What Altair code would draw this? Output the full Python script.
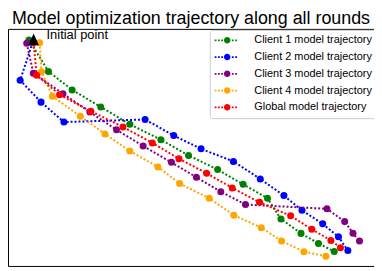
import altair as alt
import pandas as pd

series = ["Client 1 model trajectory", "Client 2 model trajectory",
          "Client 3 model trajectory", "Client 4 model trajectory",
          "Global model trajectory"]
colors = ["#008000", "#0000ff", "#800080", "#ffa500", "#ff0000"]

c1_x = [27.3, 47.0, 71.0, 100.0, 129.5, 161.0, 189.0, 218.5, 244.3, 269.0, 282.7, 303.0, 320.7, 336.7]
c1_y = [32.5, 65.2, 84.3, 102.0, 120.0, 136.0, 152.3, 167.0, 182.3, 196.7, 218.3, 233.2, 243.7, 252.0]

c2_x = [31.0, 18.3, 39.5, 62.7, 145.0, 174.0, 201.7, 234.5, 261.7, 285.7, 304.0, 325.0, 341.0, 350.5]
c2_y = [35.0, 74.3, 97.0, 117.7, 115.0, 131.7, 145.5, 158.5, 176.7, 194.0, 209.3, 223.3, 236.7, 251.0]

c3_x = [25.0, 31.7, 61.7, 89.0, 116.0, 143.0, 171.7, 197.0, 221.7, 246.7, 329.3, 347.3, 355.7, 362.3]
c3_y = [36.0, 67.0, 88.3, 107.3, 125.7, 142.5, 159.5, 175.0, 190.0, 203.3, 207.7, 221.0, 233.0, 241.0]

c4_x = [38.0, 40.0, 51.0, 79.3, 104.3, 129.5, 158.0, 180.0, 210.0, 235.0, 262.7, 283.3, 306.0, 328.3]
c4_y = [35.3, 65.5, 91.0, 111.7, 130.0, 147.7, 164.3, 181.5, 196.7, 214.3, 227.3, 241.0, 252.2, 257.0]

g_x = [32.0, 35.0, 58.3, 90.0, 122.5, 152.3, 179.3, 207.3, 233.3, 261.0, 292.5, 314.0, 333.3, 343.0]
g_y = [35.0, 69.0, 89.3, 106.5, 122.7, 139.3, 155.7, 170.8, 186.0, 201.0, 215.0, 229.0, 240.5, 248.0]

init_x = [32.0]
init_y = [32.0]
init_label = ["Initial point"]

all_x = [c1_x, c2_x, c3_x, c4_x, g_x]
all_y = [c1_y, c2_y, c3_y, c4_y, g_y]

rows = []
for s, xs_, ys_ in zip(series, all_x, all_y):
    for i, (a, b) in enumerate(zip(xs_, ys_)):
        rows.append({"series": s, "step": i, "x": a, "y": b})
df = pd.DataFrame(rows)
init_df = pd.DataFrame({"x": init_x, "y": init_y, "label": init_label})

xenc = alt.X("x:Q", scale=alt.Scale(domain=[6, 377], nice=False, zero=False), axis=None)
yenc = alt.Y("y:Q", scale=alt.Scale(domain=[21, 267], reverse=True, nice=False, zero=False), axis=None)
cscale = alt.Scale(domain=series, range=colors)

# legend symbol: dotted line with a circle marker
dots = [-2.34, -1.68, -1.02, 1.12, 1.8]
sym = "".join(f"M{c-0.18:.2f},-0.18h0.36v0.36h-0.36Z" for c in dots)
sym += "M0.66,0A0.66,0.66,0,1,1,-0.66,0A0.66,0.66,0,1,1,0.66,0Z"

legend = alt.Legend(
    title=None, orient="none", legendX=203.5, legendY=1, padding=5,
    symbolType=sym, symbolSize=100, symbolStrokeWidth=0, symbolOffset=7,
    symbolOpacity=1, labelOffset=21.8, rowPadding=4.9,
    labelFont="Liberation Sans", labelFontSize=11, labelColor="black",
    fillColor="rgba(255,255,255,0.8)", strokeColor="#cccccc", cornerRadius=3,
)

layers = []
for k, s in enumerate(series):
    sub = alt.Chart(df).transform_filter(alt.datum.series == s)
    line = sub.mark_line(strokeDash=[2, 2], strokeWidth=2, strokeCap="butt").encode(
        x=xenc, y=yenc, order="step:Q",
        color=alt.Color("series:N", scale=cscale, legend=None))
    pts = sub.mark_point(filled=True, shape="circle", size=50, opacity=1, strokeWidth=0).encode(
        x=xenc, y=yenc,
        color=alt.Color("series:N", scale=cscale, legend=legend))
    if k == 0:
        layers += [pts, line]
    else:
        layers += [line, pts]

tri = alt.Chart(init_df).mark_point(
    shape="M0,-1L-0.9,1L0.9,1Z", filled=True, size=140, color="black", opacity=1
).encode(x=xenc, y=yenc)
txt = alt.Chart(init_df).mark_text(
    align="left", baseline="middle", dx=13, dy=-4, fontSize=13,
    font="Liberation Sans", color="black"
).encode(x=xenc, y=yenc, text="label:N")
layers += [tri, txt]

chart = alt.layer(*layers).properties(
    width=369, height=239,
    title=alt.TitleParams("Model optimization trajectory along all rounds",
                          fontSize=18, font="Liberation Sans", fontWeight="normal",
                          color="black", anchor="middle", offset=1),
    autosize=alt.AutoSizeParams(type="none"),
    padding={"left": 0, "top": 20, "right": 0, "bottom": 0},
).configure_view(stroke="black", strokeWidth=1)

chart.save("out.html", embed_options={"renderer": "svg", "actions": False})
